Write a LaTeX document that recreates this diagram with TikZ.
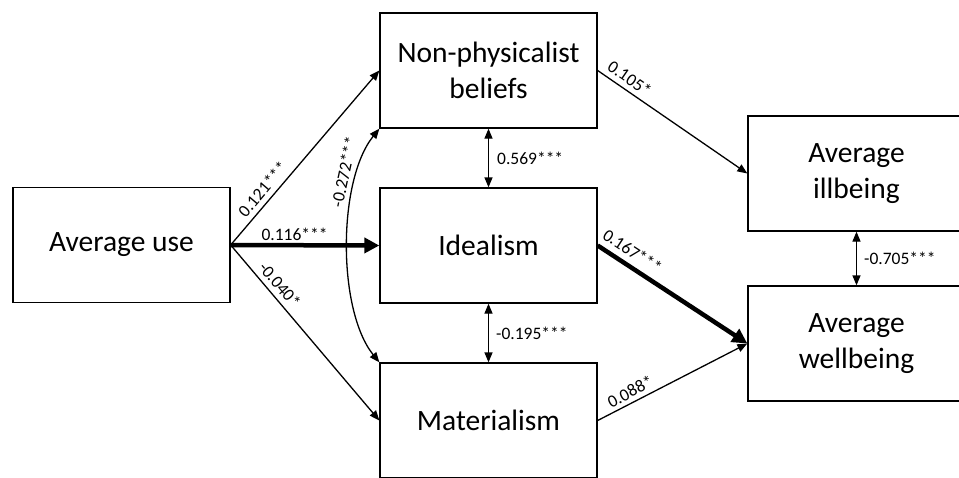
\documentclass[tikz,border=0pt]{standalone}
\usepackage{fontspec}
\setmainfont{Carlito}
\usetikzlibrary{arrows.meta}
\begin{document}
\begin{tikzpicture}[x=1pt,y=1pt,
  box/.style={draw,line width=1.3pt,minimum width=217pt,minimum height=115pt,align=center,font=\fontsize{29.5}{36}\selectfont,inner sep=0pt},
  lab/.style={font=\fontsize{17.5}{20}\selectfont,inner sep=1pt},
  thin/.style={line width=1.3pt,-{Triangle[length=10pt,width=8pt]}},
  thinb/.style={line width=1.3pt,{Triangle[length=10pt,width=8pt]}-{Triangle[length=10pt,width=8pt]}},
  thick/.style={line width=4.5pt,-{Triangle[length=15pt,width=15pt]}}]
\useasboundingbox (0,0) rectangle (959,-477);
\clip (0,0) rectangle (959,-477);
\node[box] (use) at (121.5,-245) {Average use};
\node[box] (np) at (488.5,-70.5) {Non-physicalist\\beliefs};
\node[box] (id) at (488.5,-245.5) {Idealism};
\node[box] (mat) at (488.5,-420.5) {Materialism};
\node[box] (ill) at (856.5,-173.5) {Average\\illbeing};
\node[box] (well) at (856.5,-343.5) {Average\\wellbeing};
\draw[thin] (use.east) -- node[lab,sloped,pos=0.276,above=4pt] {0.121***} (np.west);
\draw[thick] (use.east) -- node[lab,pos=0.43,above=1pt] {0.116***} (id.west);
\draw[thin] (use.east) -- node[lab,sloped,pos=0.27,above=4pt] {-0.040*} (mat.west);
\draw[thinb] (np.south west) .. controls +(-42,-52) and +(-42,52) .. (mat.north west);
\node[lab,rotate=78] (c272) at (344,-172) {-0.272***};
\draw[thinb] (np.south) -- node[lab,right=7pt] {0.569***} (id.north);
\draw[thinb] (id.south) -- node[lab,right=6pt] {-0.195***} (mat.north);
\draw[thin] (np.east) -- node[lab,sloped,pos=0.17,above=4pt] {0.105*} (ill.west);
\draw[thick] (id.east) -- node[lab,sloped,pos=0.18,above=5pt] {0.167***} (well.west);
\draw[thin] (mat.east) -- node[lab,sloped,pos=0.25,above=3pt] {0.088*} (well.west);
\draw[thinb] (ill.south) -- node[lab,right=6pt] {-0.705***} (well.north);
\end{tikzpicture}
\end{document}
